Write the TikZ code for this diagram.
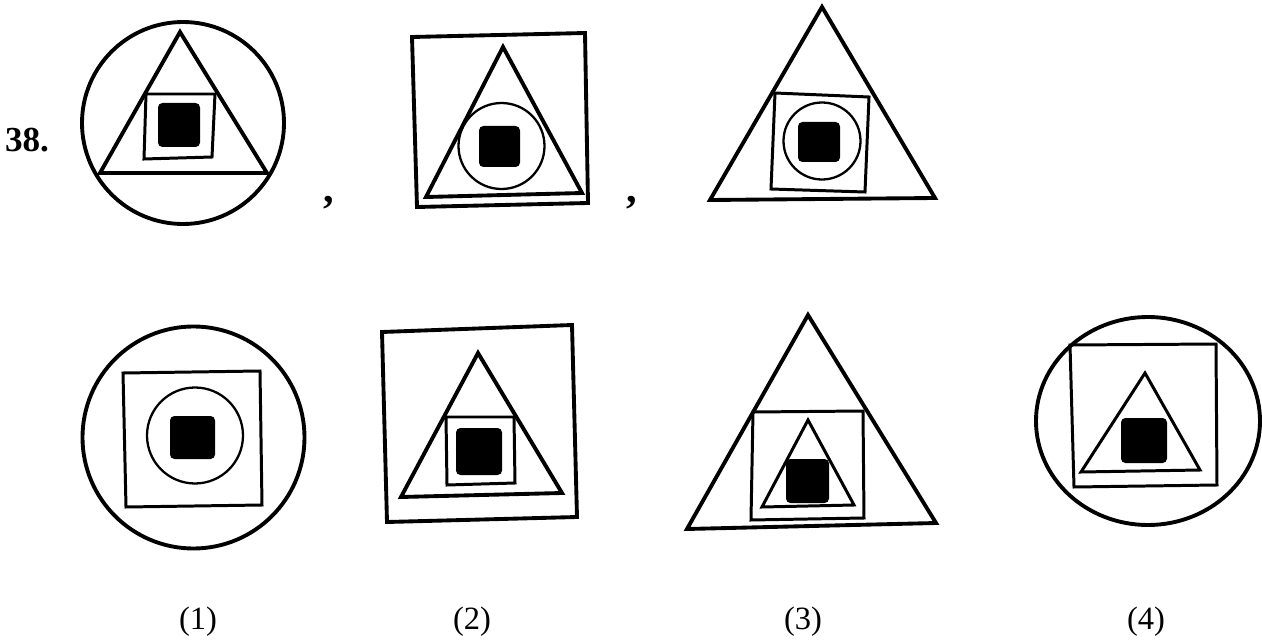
\documentclass[tikz,border=0pt]{standalone}
\usepackage{fontspec}
\setmainfont{Liberation Serif}
\usepackage{tikz}
\usetikzlibrary{positioning, calc}

\begin{document}
\begin{tikzpicture}[x=0.02cm, y=-0.02cm,
    outer/.style={line width=2.2pt, line join=miter},
    inner/.style={line width=1.7pt, line join=miter},
    ring/.style={line width=1.3pt},
    blob/.style={fill=black, rounded corners=2.5pt},
    qnum/.style={font=\fontsize{20}{22}\selectfont\bfseries},
    sep/.style={font=\fontsize{24}{26}\selectfont\bfseries},
    optlabel/.style={font=\fontsize{18.5}{20}\selectfont}
]
    \useasboundingbox (0,0) rectangle (1262,642);

    \node[qnum] (qno) at (27,140) {38.};

    \draw[outer] (183,123) circle[radius=101];
    \draw[outer] (180,32) -- (100,173) -- (267,173) -- cycle;
    \draw[inner] (146,94) -- (215,94) -- (212,157) -- (144,159) -- cycle;
    \fill[blob] (158,103) rectangle (200,147);

    \node[sep] (commaA) at (329,203) {,};

    \draw[outer] (412,37) -- (585,33) -- (588,203) -- (417,207) -- cycle;
    \draw[outer] (503,47) -- (426,197) -- (582,193) -- cycle;
    \draw[ring] (501.5,146) circle[radius=43];
    \fill[blob] (479,126) rectangle (520,167);

    \node[sep] (commaB) at (632,203) {,};

    \draw[outer] (822,7) -- (710,200) -- (935,198) -- cycle;
    \draw[inner] (775,93) -- (869,97) -- (865,192) -- (771,189) -- cycle;
    \draw[ring] (822,141) circle[radius=38.5];
    \fill[blob] (798,122) rectangle (840,162);

    \draw[outer] (193.5,437.5) circle[radius=111];
    \draw[inner] (123,373) -- (260,371) -- (262,505) -- (126,507) -- cycle;
    \draw[ring] (195,435.5) circle[radius=48];
    \fill[blob] (170,416) rectangle (215,459);

    \draw[outer] (382,332) -- (572,325) -- (577,517) -- (387,522) -- cycle;
    \draw[outer] (478,353) -- (401,497) -- (562,493) -- cycle;
    \draw[inner] (446,417) -- (514,417) -- (515,483) -- (447,485) -- cycle;
    \fill[blob] (456,428) rectangle (502,475);

    \draw[outer] (808,315) -- (687,529) -- (936,523) -- cycle;
    \draw[inner] (753,412) -- (863,411) -- (864,518) -- (751,520) -- cycle;
    \draw[inner] (808,420) -- (762,507) -- (854,505) -- cycle;
    \fill[blob] (786,459) rectangle (829,503);

    \draw[outer] (1148,421) ellipse[x radius=112, y radius=104];
    \draw[inner] (1070,345) -- (1216,344) -- (1217,485) -- (1074,487) -- cycle;
    \draw[inner] (1145,373) -- (1081,472) -- (1200,470) -- cycle;
    \fill[blob] (1121,418) rectangle (1167,463);

    \node[optlabel] (opt1) at (198,622) {(1)};
    \node[optlabel] (opt2) at (472,622) {(2)};
    \node[optlabel] (opt3) at (803,622) {(3)};
    \node[optlabel] (opt4) at (1146,622) {(4)};
\end{tikzpicture}
\end{document}
